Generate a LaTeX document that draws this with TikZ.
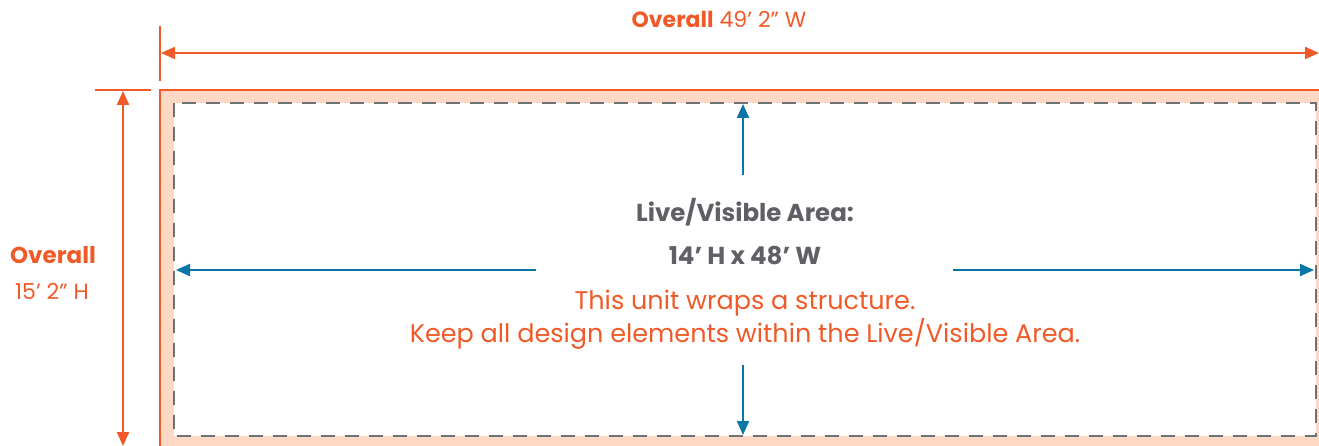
\documentclass[tikz,border=0pt]{standalone}
\usepackage{fontspec}
\setmainfont{Poppins}
\usetikzlibrary{arrows.meta}
\definecolor{rorange}{HTML}{F05A28}
\definecolor{rpeach}{HTML}{FDD8C5}
\definecolor{rblue}{HTML}{0A76A8}
\definecolor{rgray}{HTML}{5F6066}
\definecolor{rdash}{HTML}{707175}
\tikzset{
  dimline/.style={draw=rorange, line width=2.2pt},
  dimarrow/.style={draw=rorange, line width=2.2pt},
  bluearrow/.style={draw=rblue, line width=2pt, -{Triangle[length=14pt,width=12pt]}},
  graytext/.style={text=rgray, font=\bfseries\fontsize{24.5}{28}\selectfont, inner sep=0pt},
  orangetext/.style={text=rorange, font=\fontsize{25.5}{30}\selectfont, inner sep=0pt},
  ovlabel/.style={text=rorange, font=\fontsize{22}{26}\selectfont, inner sep=0pt},
}
\begin{document}
\begin{tikzpicture}[x=1pt,y=-1pt]
\useasboundingbox (0,0) rectangle (1319,446);
% outer peach panel
\fill[rpeach] (160,90) rectangle (1325,452);
\draw[rorange, line width=2.2pt] (160,460) -- (160,90) -- (1325,90);
% inner live area
\fill[white] (174,103) rectangle (1316,436);
\draw[rdash, line width=1.6pt, dash pattern=on 14pt off 10pt] (174,103) rectangle (1316,436);
% top dimension
\coordinate (tl) at (160,26);
\coordinate (tlb) at (160,81);
\draw[dimline] (tl) -- (tlb);
\coordinate (wa) at (161,53);
\coordinate (wb) at (1319,53);
\draw[dimarrow, {Triangle[length=14pt,width=12pt]}-{Triangle[length=14pt,width=12pt]}] (wa) -- (wb);
\node[ovlabel, anchor=base] (wlab) at (719,28) {{\bfseries Overall}\hspace{6pt}49’ 2” W};
% left dimension
\coordinate (hl) at (95,90);
\coordinate (hr) at (151,90);
\draw[dimline] (hl) -- (hr);
\coordinate (ha) at (123,91);
\coordinate (hb) at (123,446);
\draw[dimarrow, {Triangle[length=14pt,width=12pt]}-{Triangle[length=14pt,width=12pt]}] (ha) -- (hb);
\node[ovlabel, anchor=base, font=\bfseries\fontsize{23}{26}\selectfont] (hlab1) at (53,263) {Overall};
\node[ovlabel, anchor=base] (hlab2) at (52,299) {15’ 2” H};
% center texts
\node[graytext, anchor=base] (t1) at (745,222) {Live/Visible Area:};
\node[graytext, anchor=base] (t2) at (745,265) {14’ H x 48’ W};
\node[orangetext, anchor=base] (t3) at (745,309) {This unit wraps a structure.};
\node[orangetext, anchor=base] (t4) at (745,342) {Keep all design elements within the Live/Visible Area.};
% blue arrows
\coordinate (la) at (536,270);
\coordinate (lb) at (176,270);
\coordinate (ra) at (953,270);
\coordinate (rb) at (1314,270);
\coordinate (ua) at (743,175);
\coordinate (ub) at (743,104);
\coordinate (da) at (743,365);
\coordinate (db) at (743,435);
\draw[bluearrow] (la) -- (lb);
\draw[bluearrow] (ra) -- (rb);
\draw[bluearrow] (ua) -- (ub);
\draw[bluearrow] (da) -- (db);
\end{tikzpicture}
\end{document}
